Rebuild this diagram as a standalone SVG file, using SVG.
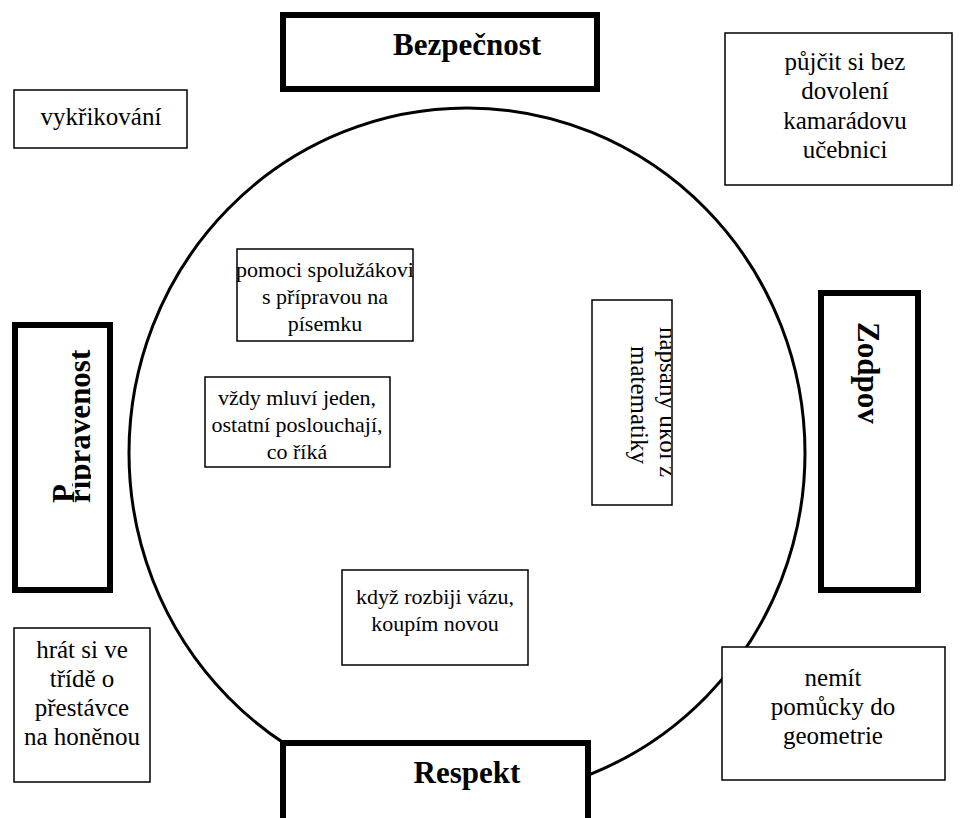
<svg xmlns="http://www.w3.org/2000/svg" width="966" height="818" viewBox="0 0 966 818">
<style>
.thick{fill:#fff;stroke:#000;stroke-width:6}
.thin{fill:#fff;stroke:#000;stroke-width:1.5}
.b{font-family:"Liberation Serif","Times New Roman",serif;font-weight:bold;font-size:31px;fill:#000}
.t{font-family:"Liberation Serif","Times New Roman",serif;font-size:25px;fill:#000;text-anchor:middle}
.s{font-family:"Liberation Serif","Times New Roman",serif;font-size:22px;fill:#000;text-anchor:middle}
</style>
<defs>
<clipPath id="clipL"><rect x="72" y="330" width="19" height="200"/></clipPath>
<clipPath id="clipN"><rect x="593" y="301" width="78" height="204"/></clipPath>
</defs>
<rect width="966" height="818" fill="#fff"/>
<g id="ellipse"><ellipse cx="467" cy="453" rx="338" ry="345" fill="none" stroke="#000" stroke-width="3"/></g>
<g id="bezpecnost">
<rect class="thick" x="283" y="15" width="314" height="74"/>
<text class="b" x="467" y="55" text-anchor="middle">Bezpečnost</text>
</g>
<g id="respekt">
<rect class="thick" x="283" y="743" width="305" height="90"/>
<text class="b" x="467" y="783" text-anchor="middle">Respekt</text>
</g>
<g id="pripravenost">
<rect class="thick" x="15" y="325" width="95" height="265"/>
<text class="b" transform="translate(74,503) rotate(-90)">P</text>
<g clip-path="url(#clipL)"><text class="b" transform="translate(90,503) rotate(-90)">řipravenost</text></g>
</g>
<g id="zodpov">
<rect class="thick" x="821" y="293" width="97" height="297"/>
<text class="b" transform="translate(858,322) rotate(90)">Zodpov</text>
</g>
<g id="vykrikovani">
<rect class="thin" x="14" y="90" width="173" height="58"/>
<text class="t" x="101" y="125">vykřikování</text>
</g>
<g id="pujcit">
<rect class="thin" x="725" y="33" width="227" height="152"/>
<text class="t" x="845" y="70">půjčit si bez</text>
<text class="t" x="845" y="99">dovolení</text>
<text class="t" x="845" y="129">kamarádovu</text>
<text class="t" x="845" y="158">učebnici</text>
</g>
<g id="pomoci">
<rect class="thin" x="237" y="249" width="176" height="92"/>
<text class="s" x="325" y="277">pomoci spolužákovi</text>
<text class="s" x="325" y="304">s přípravou na</text>
<text class="s" x="325" y="331">písemku</text>
</g>
<g id="vzdy">
<rect class="thin" x="205" y="377" width="185" height="90"/>
<text class="s" x="297" y="405">vždy mluví jeden,</text>
<text class="s" x="297" y="432">ostatní poslouchají,</text>
<text class="s" x="297" y="459">co říká</text>
</g>
<g id="napsany">
<rect class="thin" x="592" y="300" width="80" height="205"/>
<g clip-path="url(#clipN)">
<text class="t" transform="translate(660,402) rotate(90)">napsaný úkol z</text>
<text class="t" transform="translate(631,405) rotate(90)">matematiky</text>
</g>
</g>
<g id="kdyz">
<rect class="thin" x="342" y="570" width="186" height="95"/>
<text class="s" x="435" y="604">když rozbiji vázu,</text>
<text class="s" x="435" y="631">koupím novou</text>
</g>
<g id="hrat">
<rect class="thin" x="14" y="628" width="136" height="154"/>
<text class="t" x="82" y="658">hrát si ve</text>
<text class="t" x="82" y="687">třídě o</text>
<text class="t" x="82" y="716">přestávce</text>
<text class="t" x="82" y="745">na honěnou</text>
</g>
<g id="nemit">
<rect class="thin" x="722" y="647" width="223" height="133"/>
<text class="t" x="833" y="686">nemít</text>
<text class="t" x="833" y="715">pomůcky do</text>
<text class="t" x="833" y="744">geometrie</text>
</g>
<g id="connectors"/>
</svg>
